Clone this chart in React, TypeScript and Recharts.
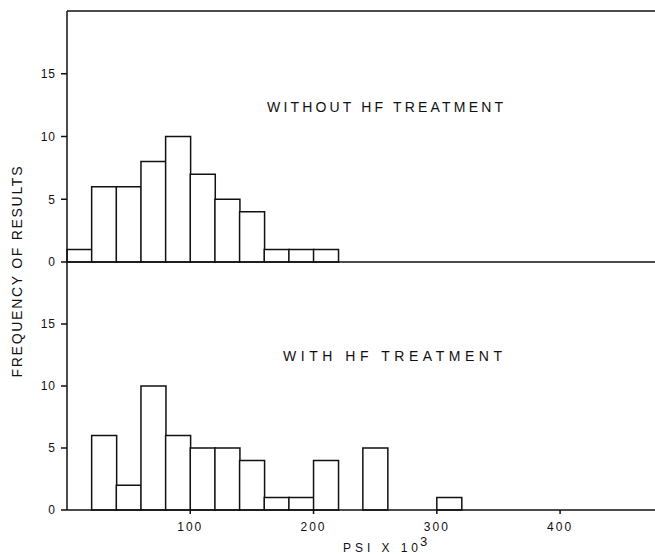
import React from 'react'
import { BarChart, Bar, XAxis, YAxis, ReferenceLine } from 'recharts'

// bin centres, PSI x 10^3 (bins are 20 wide, 0-320)
const bins = [10, 30, 50, 70, 90, 110, 130, 150, 170, 190, 210, 230, 250, 270, 290, 310]
const withoutHF = [1, 6, 6, 8, 10, 7, 5, 4, 1, 1, 1, 0, 0, 0, 0, 0]
const withHF = [0, 6, 2, 10, 6, 5, 5, 4, 1, 1, 4, 0, 5, 0, 0, 1]

const xTicks = [100, 200, 300, 400]
const yTicks = [0, 5, 10, 15]

const topData = bins.map((b, i) => ({ bin: b, count: withoutHF[i] }))
const bottomData = bins.map((b, i) => ({ bin: b, count: withHF[i] }))

const X_DOMAIN: [number, number] = [0, 477]
const Y_MAX = 20
const INK = '#111'
const FONT = '"Liberation Sans", Arial, sans-serif'

const yAxisProps = {
  type: 'number' as const,
  domain: [0, Y_MAX] as [number, number],
  ticks: yTicks,
  width: 67,
  tickSize: 6,
  tickMargin: 5,
  interval: 0 as const,
  stroke: INK,
  strokeWidth: 1.5,
  tick: { fill: INK, fontSize: 12, fontFamily: FONT, letterSpacing: 1 }
}

const barProps = {
  dataKey: 'count',
  fill: '#fff',
  stroke: INK,
  strokeWidth: 1.5,
  isAnimationActive: false
}

export default function App() {
  return (
    <div
      style={{
        position: 'absolute',
        left: 0,
        top: 0,
        width: 655,
        height: 554,
        background: '#fff',
        fontFamily: FONT
      }}
    >
      {/* upper panel: without HF */}
      <div style={{ position: 'absolute', left: 0, top: 0 }}>
        <BarChart
          width={655}
          height={270}
          data={topData}
          margin={{ top: 11, right: 0, left: 0, bottom: 0 }}
          barCategoryGap={0}
          barGap={0}
        >
          <XAxis
            dataKey="bin"
            type="number"
            domain={X_DOMAIN}
            ticks={xTicks}
            tick={false}
            tickSize={4}
            height={8}
            stroke={INK}
            strokeWidth={1.5}
          />
          <YAxis {...yAxisProps} />
          {/* frame line along the top of the upper panel */}
          <ReferenceLine y={Y_MAX} stroke={INK} strokeWidth={1.5} ifOverflow="extendDomain" />
          <Bar {...barProps} />
        </BarChart>
      </div>

      {/* lower panel: with HF */}
      <div style={{ position: 'absolute', left: 0, top: 250 }}>
        <BarChart
          width={655}
          height={304}
          data={bottomData}
          margin={{ top: 12, right: 0, left: 0, bottom: 0 }}
          barCategoryGap={0}
          barGap={0}
        >
          <XAxis
            dataKey="bin"
            type="number"
            domain={X_DOMAIN}
            ticks={xTicks}
            interval={0}
            tickSize={4}
            tickMargin={8}
            height={44}
            stroke={INK}
            strokeWidth={1.5}
            tick={{ fill: INK, fontSize: 12, fontFamily: FONT, letterSpacing: 2 }}
          />
          <YAxis {...yAxisProps} />
          <Bar {...barProps} />
        </BarChart>
      </div>

      {/* titles and axis labels */}
      <svg
        width={655}
        height={554}
        style={{ position: 'absolute', left: 0, top: 0, pointerEvents: 'none' }}
      >
        <text
          x={267}
          y={112}
          fontSize={14}
          fill={INK}
          textLength={236}
          lengthAdjust="spacing"
        >
          WITHOUT HF TREATMENT
        </text>
        <text
          x={283}
          y={361}
          fontSize={14}
          fill={INK}
          textLength={219}
          lengthAdjust="spacing"
        >
          WITH HF TREATMENT
        </text>
        <text
          transform="translate(22, 272) rotate(-90)"
          textAnchor="middle"
          fontSize={14}
          fill={INK}
          textLength={211}
          lengthAdjust="spacing"
        >
          FREQUENCY OF RESULTS
        </text>
        <text x={343} y={552} fontSize={12} fill={INK} textLength={75} lengthAdjust="spacing">
          PSI X 10
        </text>
        <text x={420} y={546} fontSize={13} fill={INK}>
          3
        </text>
      </svg>
    </div>
  )
}
